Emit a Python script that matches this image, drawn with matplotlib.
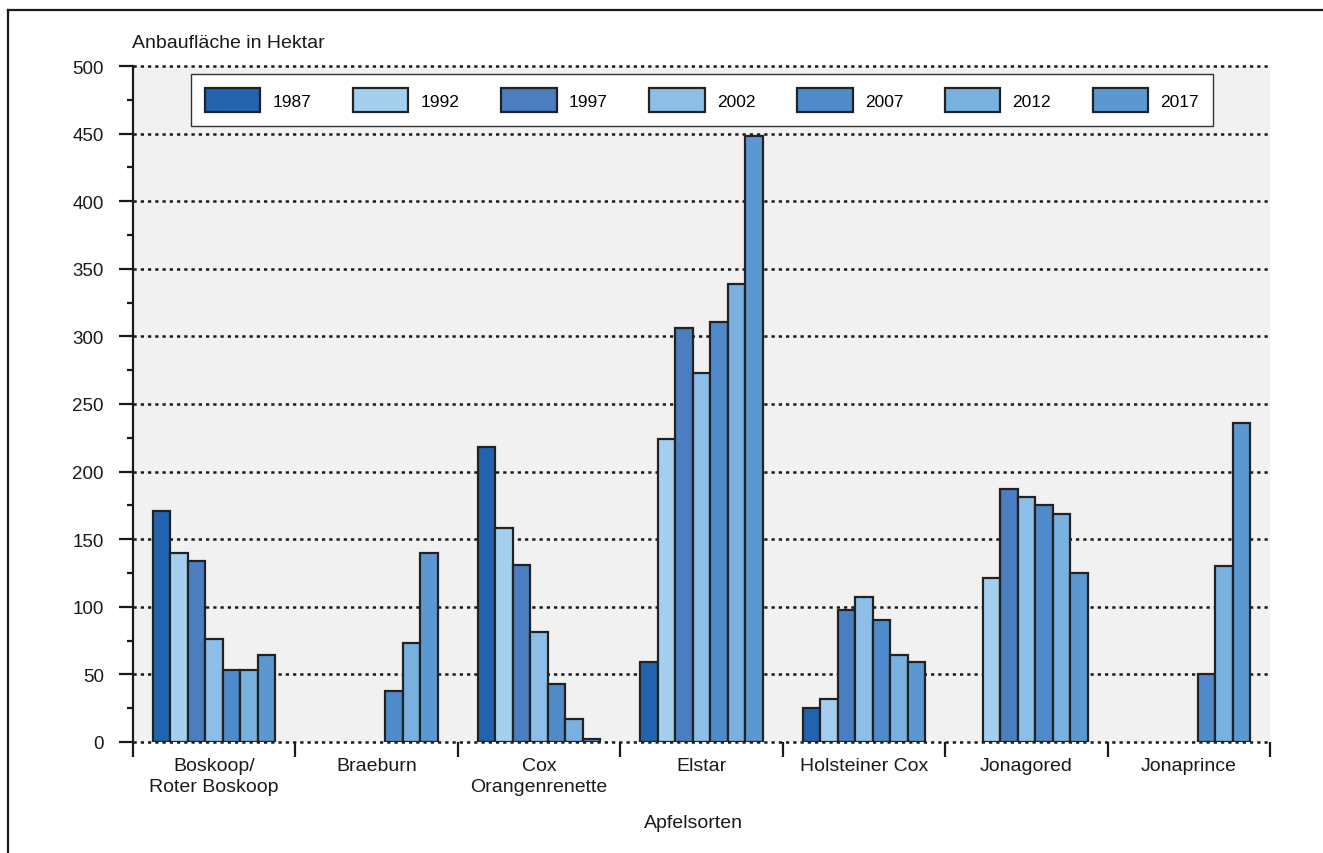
"""Anbauflaeche ausgewaehlter Apfelsorten 1987 bis 2017 als gruppiertes Balkendiagramm."""

import matplotlib

matplotlib.use("Agg")

import matplotlib.pyplot as plt
import numpy as np
from matplotlib.lines import Line2D
from matplotlib.ticker import MultipleLocator


VARIETIES = [
    "Boskoop/\nRoter Boskoop",
    "Braeburn",
    "Cox\nOrangenrenette",
    "Elstar",
    "Holsteiner Cox",
    "Jonagored",
    "Jonaprince",
]
YEARS = ["1987", "1992", "1997", "2002", "2007", "2012", "2017"]

# Anbauflaeche in Hektar je Jahr (nan = keine Angabe)
AREA_1987 = [171, np.nan, 218, 59, 25, np.nan, np.nan]
AREA_1992 = [140, np.nan, 158, 224, 32, 121, np.nan]
AREA_1997 = [134, np.nan, 131, 306, 98, 187, np.nan]
AREA_2002 = [76, np.nan, 81, 273, 107, 181, np.nan]
AREA_2007 = [53, 38, 43, 311, 90, 175, 50]
AREA_2012 = [53, 73, 17, 339, 64, 169, 130]
AREA_2017 = [64, 140, 2, 448, 59, 125, 236]

YEAR_COLORS = ["#2263b0", "#a5cfee", "#4a7ec0", "#8cbee8", "#4f8aca", "#78b0df", "#5b97d1"]


def main() -> None:
    """Draw the chart and save it as out.png."""
    plt.rcParams["font.family"] = ["Liberation Sans", "DejaVu Sans"]

    series = [AREA_1987, AREA_1992, AREA_1997, AREA_2002, AREA_2007, AREA_2012, AREA_2017]

    fig = plt.figure(figsize=(13.23, 8.54), dpi=100)
    ax = fig.add_axes([133 / 1323, 1 - 743 / 854, 1137 / 1323, 676 / 854])
    ax.set_facecolor("#f1f1f1")

    centers = np.arange(len(VARIETIES)) + 0.5
    bar_width = 0.1077
    containers = []
    for i, (year, values) in enumerate(zip(YEARS, series)):
        offset = (i - 3) * bar_width
        bars = ax.bar(
            centers + offset,
            values,
            width=bar_width,
            color=YEAR_COLORS[i],
            edgecolor="#222222",
            linewidth=1.6,
            label=year,
            zorder=3,
        )
        containers.append(bars)

    # gepunktete Gitterlinien
    for value in range(0, 501, 50):
        ax.axhline(value, color="#1a1a1a", linewidth=1.8,
                   linestyle=(0, (1.3, 1.6)), zorder=1, clip_on=False)

    ax.set_xlim(0, len(VARIETIES))
    ax.set_ylim(0, 500)

    for side in ["top", "right", "bottom"]:
        ax.spines[side].set_visible(False)
    ax.spines["left"].set_linewidth(1.6)
    ax.spines["left"].set_color("#1a1a1a")

    ax.yaxis.set_major_locator(MultipleLocator(50))
    ax.yaxis.set_minor_locator(MultipleLocator(25))
    ax.tick_params(axis="y", which="major", length=10, width=1.6, pad=11,
                   labelsize=13.5, color="#1a1a1a", labelcolor="#1a1a1a")
    ax.tick_params(axis="y", which="minor", length=4.5, width=1.6, color="#1a1a1a")

    ax.set_xticks(np.arange(len(VARIETIES) + 1))
    ax.set_xticklabels([])
    ax.set_xticks(centers, minor=True)
    ax.set_xticklabels(VARIETIES, minor=True, linespacing=1.3)
    ax.tick_params(axis="x", which="major", length=11, width=1.6, color="#1a1a1a")
    ax.tick_params(axis="x", which="minor", length=0, pad=11,
                   labelsize=14, labelcolor="#1a1a1a")

    ax.text(-0.001, (743 - 48) / 676, "Anbaufläche in Hektar", transform=ax.transAxes,
            ha="left", va="baseline", fontsize=14, color="#1a1a1a")
    ax.text(0.493, (743 - 828) / 676, "Apfelsorten", transform=ax.transAxes,
            ha="center", va="baseline", fontsize=14, color="#1a1a1a")

    legend = ax.legend(
        handles=containers,
        loc="upper left",
        bbox_to_anchor=(58 / 1137, 1 - 8 / 676, 1022 / 1137, 0),
        mode="expand",
        ncol=7,
        fontsize=12.5,
        frameon=True,
        fancybox=False,
        handlelength=3.2,
        handleheight=1.8,
        handletextpad=0.7,
        borderpad=0.8,
        borderaxespad=0,
    )
    legend.get_frame().set_edgecolor("#333333")
    legend.get_frame().set_linewidth(1.0)
    legend.get_frame().set_facecolor("white")
    legend.get_frame().set_alpha(1.0)
    legend.set_zorder(5)

    # Rahmen oben und links
    top = 1 - 11 / 854
    left = 8 / 1323
    fig.add_artist(Line2D([left, 1.0], [top, top], transform=fig.transFigure,
                          color="#1a1a1a", linewidth=1.6))
    fig.add_artist(Line2D([left, left], [0.0, top], transform=fig.transFigure,
                          color="#1a1a1a", linewidth=1.6))

    fig.savefig("out.png", dpi=100)


if __name__ == "__main__":
    main()
